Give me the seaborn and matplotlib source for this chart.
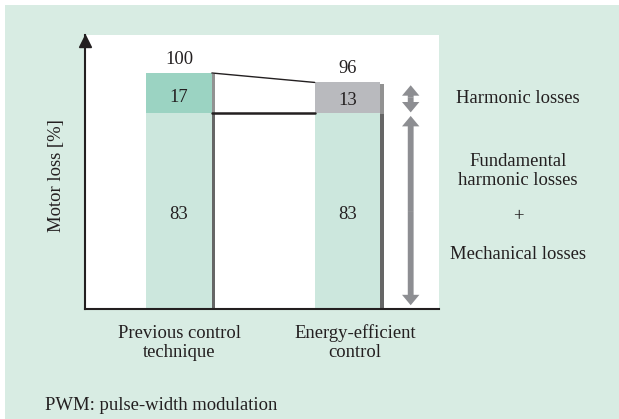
import matplotlib.pyplot as plt
import matplotlib.patheffects as pe
from matplotlib.patches import FancyArrowPatch, Rectangle
import seaborn as sns
import pandas as pd

# values
categories = ["Previous control\ntechnique", "Energy-efficient\ncontrol"]
fundamental = [83, 83]
harmonic = [17, 13]
totals = [f + h for f, h in zip(fundamental, harmonic)]
side_labels = ["Harmonic losses", "Fundamental\nharmonic losses", "+", "Mechanical losses"]
note = "PWM: pulse-width modulation"

bg = "#d8ece3"
light = "#cce7dd"
teal = "#9bd3c2"
gray = "#b9babe"
arrow_gray = "#8d8e92"
ink = "#231f20"

sns.set_theme(style="white")
plt.rcParams["font.family"] = ["Liberation Serif", "DejaVu Serif"]
plt.rcParams["font.size"] = 13.4

fig = plt.figure(figsize=(6.19, 4.19), dpi=100)
fig.patch.set_facecolor("white")
fig.add_artist(Rectangle((5 / 619, 0), 1, 1 - 5 / 419, transform=fig.transFigure,
                         facecolor=bg, edgecolor="none", zorder=-10))

ax = fig.add_axes([85 / 619, 1 - 309 / 419, 354 / 619, 274 / 419])
ax.set_facecolor("white")

df = pd.DataFrame({"method": categories, "total": totals, "fundamental": fundamental})
bar_w = 0.39
sns.barplot(data=df, x="method", y="total", hue="method", palette=[teal, gray],
            width=bar_w, dodge=False, legend=False, saturation=1, linewidth=0, ax=ax)
sns.barplot(data=df, x="method", y="fundamental", color=light,
            width=bar_w, saturation=1, linewidth=0, ax=ax)

# soft drop shadow on the right of each bar
for p in ax.patches:
    p.set_clip_on(False)
    p.set_path_effects([pe.SimplePatchShadow(offset=(2.6, -0.9), shadow_rgbFace="#4a4a4a", alpha=0.6),
                        pe.Normal()])

ax.set_xlim(-0.558, 1.543)
ax.set_ylim(0, 116.1)
ax.set(xlabel="", ylabel="")
ax.set_xticks([])
ax.set_yticks([])
sns.despine(ax=ax)
for s in ["left", "bottom"]:
    ax.spines[s].set_color(ink)
    ax.spines[s].set_linewidth(1.5)
ax.plot([0], [0.978], marker="^", markersize=9, color=ink, transform=ax.transAxes, clip_on=False)

# connector lines between the bars
ax.plot([bar_w / 2, 1 - bar_w / 2], [totals[0], totals[1]], color=ink, lw=1.0)
ax.plot([bar_w / 2, 1 - bar_w / 2], [fundamental[0], fundamental[1]], color=ink, lw=1.8)

# value labels
for i in range(len(categories)):
    ax.text(i, totals[i] + 5.7, str(totals[i]), ha="center", va="center", color=ink)
    ax.text(i, fundamental[i] + harmonic[i] * 0.4, str(harmonic[i]), ha="center", va="center", color=ink)
    ax.text(i, fundamental[i] * 0.48, str(fundamental[i]), ha="center", va="center", color=ink)

# category labels
for i, lab in enumerate(categories):
    ax.text(i + 0.045 * i, -14.4, lab, ha="center", va="center", linespacing=1.15,
            color=ink, clip_on=False)

# side arrows
ax_x = 1.375
def half_arrow(y0, y1):
    a = FancyArrowPatch((ax_x, y0), (ax_x, y1),
                        arrowstyle="simple,head_length=0.75,head_width=1.25,tail_width=0.42",
                        mutation_scale=10, color=arrow_gray, lw=0, shrinkA=0, shrinkB=0,
                        clip_on=False)
    ax.add_patch(a)

top_mid = fundamental[1] + harmonic[1] / 2
half_arrow(top_mid, totals[1] - 1.2)
half_arrow(top_mid, fundamental[1] + 0.3)
low_mid = fundamental[1] / 2
half_arrow(low_mid, fundamental[1] - 1.2)
half_arrow(low_mid, 1.6)

side_x = 2.012
side_y = [89, 58.5, 39, 23.3]
for lab, y in zip(side_labels, side_y):
    ax.text(side_x, y, lab, ha="center", va="center", linespacing=1.15,
            color=ink, clip_on=False)

fig.text(56 / 619, 1 - 176 / 419, "Motor loss [%]", rotation=90, ha="center", va="center", color=ink)
fig.text(45 / 619, 1 - 405 / 419, note, ha="left", va="center", color=ink)

fig.savefig("out.png", dpi=100, facecolor=fig.get_facecolor())
